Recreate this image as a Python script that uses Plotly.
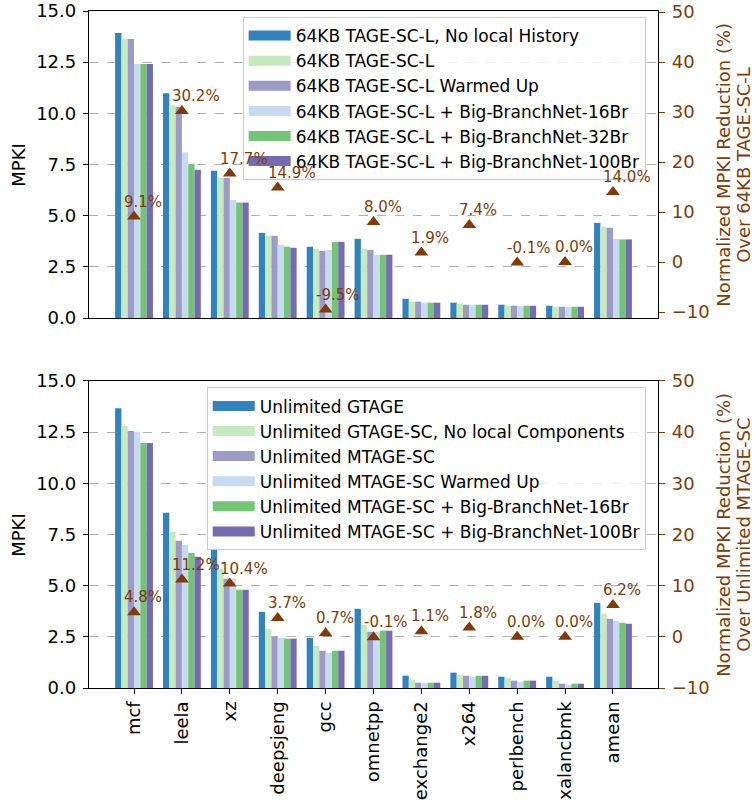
import plotly.graph_objects as go

categories = ["mcf", "leela", "xz", "deepsjeng", "gcc", "omnetpp",
              "exchange2", "x264", "perlbench", "xalancbmk", "amean"]

top_names = ["64KB TAGE-SC-L, No local History", "64KB TAGE-SC-L",
             "64KB TAGE-SC-L Warmed Up", "64KB TAGE-SC-L + Big-BranchNet-16Br",
             "64KB TAGE-SC-L + Big-BranchNet-32Br", "64KB TAGE-SC-L + Big-BranchNet-100Br"]
top_no_local = [13.92, 10.98, 7.19, 4.16, 3.48, 3.87, 0.94, 0.75, 0.65, 0.60, 4.65]
top_base = [13.63, 10.40, 6.85, 4.02, 3.38, 3.38, 0.80, 0.70, 0.60, 0.55, 4.46]
top_warm = [13.63, 10.31, 6.85, 4.02, 3.28, 3.33, 0.80, 0.65, 0.60, 0.55, 4.41]
top_bn16 = [12.41, 8.10, 5.77, 3.58, 3.33, 3.09, 0.75, 0.65, 0.60, 0.55, 3.87]
top_bn32 = [12.41, 7.53, 5.64, 3.48, 3.72, 3.09, 0.75, 0.65, 0.60, 0.55, 3.84]
top_bn100 = [12.41, 7.24, 5.64, 3.43, 3.72, 3.09, 0.75, 0.65, 0.60, 0.55, 3.84]
top_reduction = [9.1, 30.2, 17.7, 14.9, -9.5, 8.0, 1.9, 7.4, -0.1, 0.0, 14.0]

bot_names = ["Unlimited GTAGE", "Unlimited GTAGE-SC, No local Components",
             "Unlimited MTAGE-SC", "Unlimited MTAGE-SC Warmed Up",
             "Unlimited MTAGE-SC + Big-BranchNet-16Br", "Unlimited MTAGE-SC + Big-BranchNet-100Br"]
bot_gtage = [13.67, 8.56, 6.75, 3.72, 2.45, 3.87, 0.60, 0.75, 0.55, 0.55, 4.16]
bot_gtage_sc = [12.80, 7.63, 5.82, 2.89, 2.06, 3.09, 0.41, 0.65, 0.50, 0.36, 3.63]
bot_mtage = [12.56, 7.19, 5.34, 2.50, 1.82, 2.75, 0.26, 0.60, 0.36, 0.21, 3.38]
bot_warm = [12.52, 6.99, 5.34, 2.45, 1.72, 2.75, 0.26, 0.55, 0.31, 0.16, 3.28]
bot_bn16 = [11.97, 6.60, 4.80, 2.41, 1.82, 2.80, 0.26, 0.60, 0.36, 0.21, 3.19]
bot_bn100 = [11.97, 6.41, 4.80, 2.41, 1.82, 2.80, 0.26, 0.60, 0.36, 0.21, 3.14]
bot_reduction = [4.8, 11.2, 10.4, 3.7, 0.7, -0.1, 1.1, 1.8, 0.0, 0.0, 6.2]

mpki_ticks = [0, 2.5, 5, 7.5, 10, 12.5, 15]
pct_ticks = [-10, 0, 10, 20, 30, 40, 50]
top_pct_title = ["Normalized MPKI Reduction (%)", "Over 64KB TAGE-SC-L"]
bot_pct_title = ["Normalized MPKI Reduction (%)", "Over Unlimited MTAGE-SC"]

colors = ["#3182bd", "#c7e9c0", "#9e9ac8", "#c6dbef", "#74c476", "#756bb1"]
BROWN = "#7f3b08"
FONT = "DejaVu Sans"

top_series = [top_no_local, top_base, top_warm, top_bn16, top_bn32, top_bn100]
bot_series = [bot_gtage, bot_gtage_sc, bot_mtage, bot_warm, bot_bn16, bot_bn100]

fig = go.Figure()
ann = []

def add_panel(names, series, reduction, xa, ya, ya2, legend, grp):
    for i, (nm, vals) in enumerate(zip(names, series)):
        fig.add_trace(go.Bar(x=categories, y=vals, name=nm, marker=dict(color=colors[i], line=dict(width=0)),
                             xaxis=xa, yaxis=ya, showlegend=False, legendgroup=f"{grp}{i}",
                             offsetgroup=str(i)))
        # legend proxy (wide patch like matplotlib)
        fig.add_trace(go.Scatter(x=[None], y=[None], mode="lines", name=nm,
                                 line=dict(color=colors[i], width=11),
                                 xaxis=xa, yaxis=ya, legend=legend, legendgroup=f"{grp}{i}"))
    fig.add_trace(go.Scatter(x=categories, y=reduction, mode="markers",
                             marker=dict(symbol="triangle-up", size=12, color=BROWN),
                             xaxis=xa, yaxis=ya2, showlegend=False, cliponaxis=False))
    for c, v in zip(categories, reduction):
        ann.append(dict(text=f"{v:.1f}%", xref=xa, yref=ya2, x=c, y=v, showarrow=False,
                        xanchor="left", yanchor="middle", xshift=-12, yshift=15,
                        font=dict(size=15, family=FONT, color=BROWN)))

add_panel(top_names, top_series, top_reduction, "x", "y", "y2", "legend", "t")
add_panel(bot_names, bot_series, bot_reduction, "x2", "y3", "y4", "legend2", "b")

xcommon = dict(type="category", range=[-0.94, 10.94], showline=True, linecolor="black", linewidth=1.3,
               mirror=True, showgrid=False, zeroline=False, automargin=False,
               tickfont=dict(size=18, family=FONT, color="black"))
ycommon = dict(range=[0, 15], tickvals=mpki_ticks, tickformat=".1f", showline=True, linecolor="black",
               linewidth=1.3, ticks="outside", ticklen=5, tickcolor="black", tickwidth=1.2, showgrid=True,
               gridcolor="#b0b0b0", griddash="dash", gridwidth=1, zeroline=False, automargin=False,
               ticklabelstandoff=3, tickfont=dict(size=18, family=FONT, color="black"))
y2common = dict(side="right", tickvals=pct_ticks, showline=True, linecolor="black", linewidth=1.3,
                ticks="outside", ticklen=6, tickcolor=BROWN, tickwidth=1.2, showgrid=False, zeroline=False,
                automargin=False, ticklabelstandoff=3, tickfont=dict(size=18, family=FONT, color=BROWN))

for yc in (0.7733, 0.2267):
    ann.append(dict(text="MPKI", xref="paper", yref="paper", x=-0.1243, y=yc, textangle=-90,
                    showarrow=False, xanchor="center", yanchor="middle",
                    font=dict(size=18, family=FONT, color="black")))
for yc, lines in ((0.7733, top_pct_title), (0.2267, bot_pct_title)):
    for xc, line in zip((1.1148, 1.1500), lines):
        ann.append(dict(text=line, xref="paper", yref="paper", x=xc, y=yc, textangle=-90,
                        showarrow=False, xanchor="center", yanchor="middle",
                        font=dict(size=18, family=FONT, color=BROWN)))

fig.update_layout(
    template="none",
    width=754, height=805,
    margin=dict(l=89, r=96, t=11, b=117, autoexpand=False),
    paper_bgcolor="white", plot_bgcolor="white",
    barmode="group", bargap=0.21, bargroupgap=0,
    font=dict(family=FONT, size=18, color="black"),
    xaxis=dict(**xcommon, anchor="y", domain=[0, 1], showticklabels=False, ticks=""),
    yaxis=dict(**ycommon, domain=[0.5465, 1], anchor="x"),
    yaxis2=dict(**y2common, overlaying="y", anchor="x", range=[-11.2, 50.2]),
    xaxis2=dict(**xcommon, anchor="y3", domain=[0, 1], ticks="outside", ticklen=5, tickcolor="black",
                tickwidth=1.2, tickangle=-90),
    yaxis3=dict(**ycommon, domain=[0, 0.4535], anchor="x2"),
    yaxis4=dict(**y2common, overlaying="y3", anchor="x2", range=[-10, 50]),
    annotations=ann,
    legend=dict(x=0.270, y=0.9911, xanchor="left", yanchor="top", bgcolor="rgba(255,255,255,0.8)",
                bordercolor="#cccccc", borderwidth=1, font=dict(size=17, family=FONT, color="black"),
                itemwidth=42, tracegroupgap=0),
    legend2=dict(x=0.2069, y=0.4441, xanchor="left", yanchor="top", bgcolor="rgba(255,255,255,0.8)",
                 bordercolor="#cccccc", borderwidth=1, font=dict(size=17, family=FONT, color="black"),
                 itemwidth=42, tracegroupgap=0),
)

fig.write_html("out.html", config={"displayModeBar": False},
               post_script="document.body.style.margin='0';")
